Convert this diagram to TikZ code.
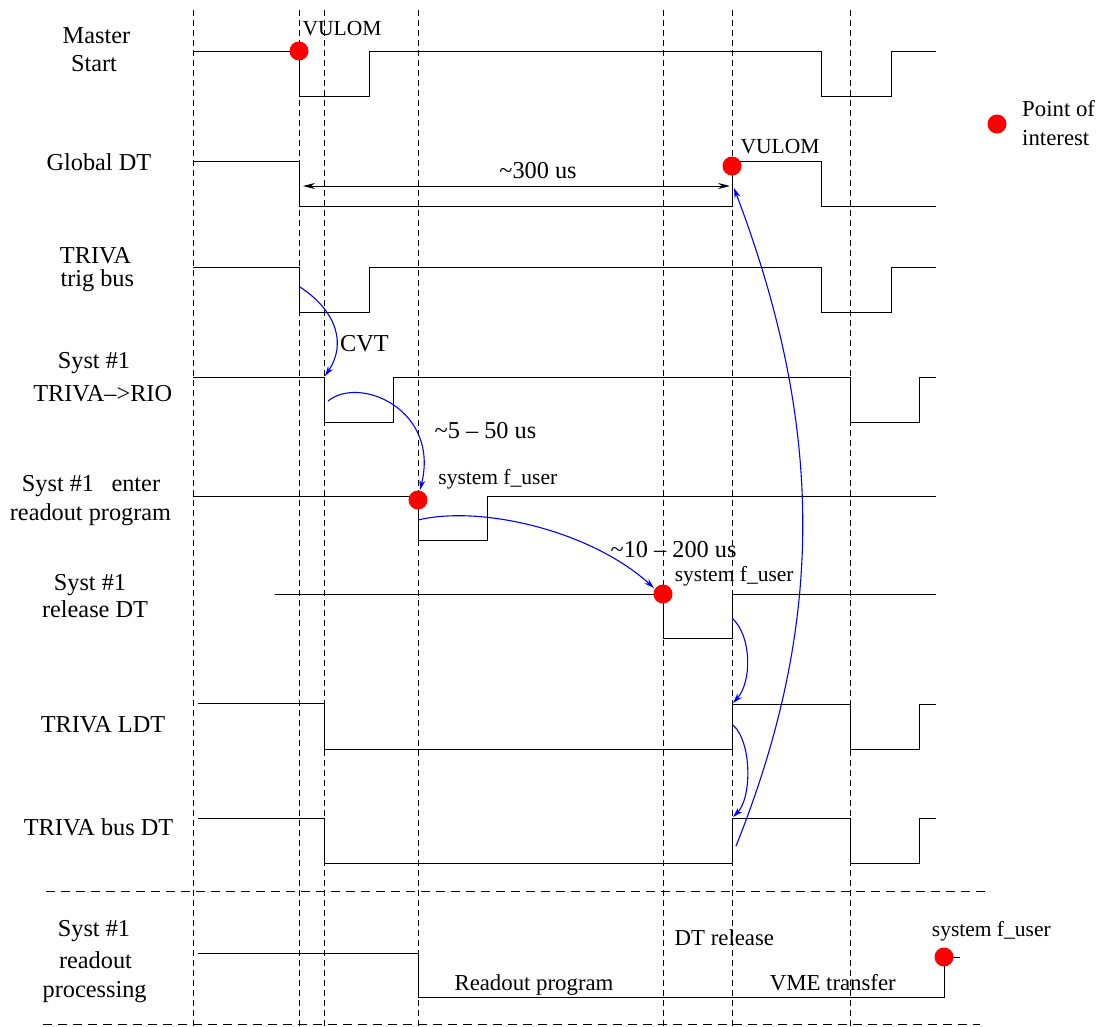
\documentclass[tikz,border=0pt]{standalone}
\usepackage{fontspec}
\setmainfont{Liberation Serif}
\usetikzlibrary{arrows.meta}
\begin{document}
\begin{tikzpicture}[x=1pt,y=-1pt,
  sig/.style={line width=1pt, line join=miter},
  gridline/.style={line width=0.8pt, dash pattern=on 6pt off 4pt},
  sepline/.style={line width=0.9pt, dash pattern=on 9pt off 6pt},
  poi/.style={circle, fill=red, inner sep=0pt, minimum size=19pt},
  lbl/.style={font=\fontsize{24.3}{28}\selectfont, anchor=base, inner sep=0pt},
  med/.style={font=\fontsize{22.8}{27}\selectfont, anchor=base, inner sep=0pt},
  sml/.style={font=\fontsize{21.5}{25}\selectfont, anchor=base, inner sep=0pt},
  flow/.style={blue, line width=1.1pt, -{Stealth[length=10pt,width=6pt]}},
  span/.style={line width=1pt, {Stealth[length=12pt,width=6pt]}-{Stealth[length=12pt,width=6pt]}},
]
\useasboundingbox (0,0) rectangle (1106,1026);

% vertical time markers
\foreach \xx in {193,299,324,418,663,732,850}
  \draw[gridline] (\xx,10) -- (\xx,1026);
% horizontal separators
\draw[sepline] (46,891) -- (988,891);
\draw[sepline] (43,1024) -- (980,1024);

% signals
\draw[sig] (193,51) -- (299,51) -- (299,96) -- (369,96) -- (369,51) -- (821,51) -- (821,96) -- (891,96) -- (891,51) -- (936,51);
\draw[sig] (193,161) -- (299,161) -- (299,206) -- (732,206) -- (732,161) -- (821,161) -- (821,206) -- (936,206);
\draw[sig] (193,267) -- (299,267) -- (299,312) -- (369,312) -- (369,267) -- (821,267) -- (821,312) -- (891,312) -- (891,267) -- (936,267);
\draw[sig] (193,377) -- (324,377) -- (324,422) -- (393,422) -- (393,377) -- (850,377) -- (850,422) -- (919,422) -- (919,377) -- (936,377);
\draw[sig] (193,496) -- (418,496) -- (418,540) -- (487,540) -- (487,496) -- (936,496);
\draw[sig] (275,594) -- (663,594) -- (663,638) -- (732,638) -- (732,594) -- (936,594);
\draw[sig] (198,703) -- (324,703) -- (324,749) -- (732,749) -- (732,704) -- (850,704) -- (850,749) -- (919,749) -- (919,704) -- (936,704);
\draw[sig] (198,818) -- (324,818) -- (324,863) -- (732,863) -- (732,818) -- (850,818) -- (850,863) -- (919,863) -- (919,818) -- (936,818);
\draw[sig] (198,953) -- (418,953) -- (418,997) -- (944,997) -- (944,957) -- (960,957);

% points of interest
\node[poi] (p1) at (299,51) {};
\node[poi] (p2) at (732,166) {};
\node[poi] (p3) at (418,500) {};
\node[poi] (p4) at (663,594) {};
\node[poi] (p5) at (944,957) {};
\node[poi] (leg) at (997,124) {};

% signal labels
\node[lbl] (l1a) at (96.4,43.3) {Master};
\node[lbl] (l1b) at (94,71.7) {Start};
\node[lbl] (l2) at (98.9,170) {Global DT};
\node[lbl] (l3a) at (95.5,263.3) {TRIVA};
\node[lbl] (l3b) at (97.3,286) {trig bus};
\node[lbl] (l4a) at (94,368.3) {Syst \#1};
\node[lbl] (l4b) at (102.7,401.7) {TRIVA–>RIO};
\node[lbl] (l5a) at (91,491.7) {Syst \#1\hspace{17.4pt}enter};
\node[lbl] (l5b) at (90.5,520) {readout program};
\node[lbl] (l6a) at (90,590) {Syst \#1};
\node[lbl] (l6b) at (95,617.3) {release DT};
\node[lbl] (l7) at (103,732.7) {TRIVA LDT};
\node[lbl] (l8) at (98.6,835) {TRIVA bus DT};
\node[lbl] (l9a) at (94,936.7) {Syst \#1};
\node[lbl] (l9b) at (95.5,968.3) {readout};
\node[lbl] (l9c) at (94.6,997) {processing};

% annotations
\node[sml] (v1) at (342,35) {VULOM};
\node[sml] (v2) at (780,153.3) {VULOM};
\node[med, anchor=base west] (lg1) at (1022,116.7) {Point of};
\node[med, anchor=base west] (lg2) at (1022,145) {interest};
\node[lbl] (t300) at (538,178.3) {\textasciitilde300 us};
\node[lbl] (cvt) at (364.5,351.7) {CVT};
\node[lbl] (t550) at (485.5,438.3) {\textasciitilde5 – 50 us};
\node[sml] (fu1) at (497.8,484) {system f\_user};
\node[lbl] (t10) at (673.6,557.3) {\textasciitilde10 – 200 us};
\node[sml] (fu2) at (734.2,581.7) {system f\_user};
\node[sml] (fu3) at (991.3,936.7) {system f\_user};
\node[med] (rp) at (534,990) {Readout program};
\node[med] (dtr) at (724.4,945) {DT release};
\node[med] (vme) at (832.8,990) {VME transfer};

% span arrow
\coordinate (s1) at (303,186);
\coordinate (s2) at (730,186);
\draw[span] (s1) -- (s2);

% causal arrows
\coordinate (a1s) at (300,287);  \coordinate (a1e) at (325,376);
\coordinate (a2s) at (328,401);  \coordinate (a2e) at (420,490);
\coordinate (a3s) at (418,520);  \coordinate (a3e) at (654,588);
\coordinate (a4s) at (736,846);  \coordinate (a4e) at (734,188);
\coordinate (a5s) at (732,618);  \coordinate (a5e) at (733,703);
\coordinate (a6s) at (733,725);  \coordinate (a6e) at (733,817);
\draw[flow] (a1s) .. controls (338,312) and (346,345) .. (a1e);
\draw[flow] (a2s) .. controls (360,375) and (440,410) .. (a2e);
\draw[flow] (a3s) .. controls (480,505) and (590,530) .. (a3e);
\draw[flow] (a4s) .. controls (825,624) and (825,428) .. (a4e);
\draw[flow] (a5s) .. controls (752,636) and (752,682) .. (a5e);
\draw[flow] (a6s) .. controls (752,742) and (752,798) .. (a6e);
\end{tikzpicture}
\end{document}
